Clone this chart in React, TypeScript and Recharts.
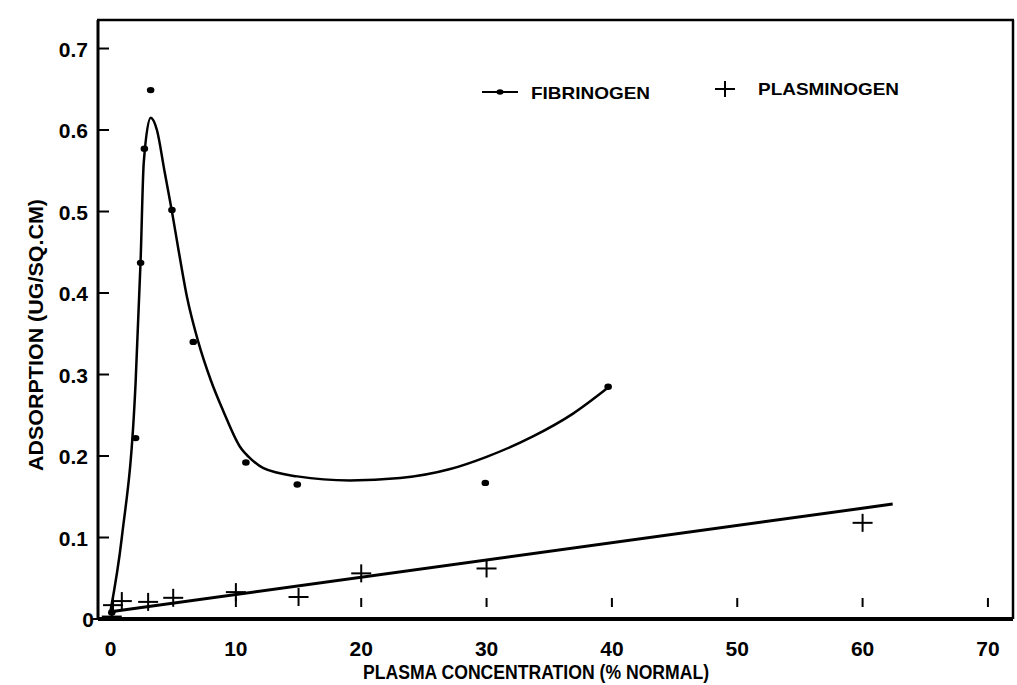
import React from "react";
import { ComposedChart, Line, Scatter, XAxis, YAxis } from "recharts";

// measured fibrinogen adsorption (dots)
const fibrinogenPoints = [
  { x: 0.1, y: 0.008 },
  { x: 2.0, y: 0.222 },
  { x: 2.4, y: 0.437 },
  { x: 2.7, y: 0.577 },
  { x: 3.2, y: 0.649 },
  { x: 4.9, y: 0.502 },
  { x: 6.6, y: 0.34 },
  { x: 10.8, y: 0.192 },
  { x: 14.9, y: 0.165 },
  { x: 29.9, y: 0.167 },
  { x: 39.7, y: 0.285 },
];

// hand-drawn fitted curve through the fibrinogen data
const fibrinogenCurve = [
  { x: 0, y: 0.01 },
  { x: 0.9, y: 0.1 },
  { x: 2.0, y: 0.29 },
  { x: 2.4, y: 0.44 },
  { x: 2.65, y: 0.56 },
  { x: 3.2, y: 0.615 },
  { x: 3.7, y: 0.6 },
  { x: 4.3, y: 0.55 },
  { x: 4.9, y: 0.5 },
  { x: 5.4, y: 0.455 },
  { x: 6.1, y: 0.395 },
  { x: 7.0, y: 0.34 },
  { x: 8.0, y: 0.293 },
  { x: 9.0, y: 0.255 },
  { x: 10.3, y: 0.212 },
  { x: 11.3, y: 0.195 },
  { x: 12.2, y: 0.185 },
  { x: 14.9, y: 0.175 },
  { x: 19.1, y: 0.17 },
  { x: 23.1, y: 0.173 },
  { x: 27.1, y: 0.184 },
  { x: 30, y: 0.199 },
  { x: 33.7, y: 0.224 },
  { x: 36.9, y: 0.252 },
  { x: 39.7, y: 0.284 },
];

// measured plasminogen adsorption (crosses)
const plasminogenPoints = [
  { x: 0.1, y: 0.003 },
  { x: 0.2, y: 0.017 },
  { x: 0.9, y: 0.022 },
  { x: 3, y: 0.021 },
  { x: 5, y: 0.026 },
  { x: 10, y: 0.033 },
  { x: 15, y: 0.027 },
  { x: 20, y: 0.056 },
  { x: 30, y: 0.062 },
  { x: 60, y: 0.118 },
];

// straight fit line for plasminogen
const plasminogenFit = [
  { x: 0, y: 0.009 },
  { x: 62.4, y: 0.141 },
];

const xTicks = [0, 10, 20, 30, 40, 50, 60, 70];
const yTicks = [0, 0.1, 0.2, 0.3, 0.4, 0.5, 0.6, 0.7];

const FONT = "'Liberation Sans', Arial, Helvetica, sans-serif";
const W = 1017;
const H = 685;
const PLOT_LEFT = 98;
const PLOT_TOP = 20;
const PLOT_RIGHT = 1013;
const PLOT_BOTTOM = 619;

const XTick = (props: any) => {
  const { x, payload } = props;
  return (
    <g>
      {payload.value > 0 && (
        <line x1={x} x2={x} y1={598} y2={607} stroke="#000" strokeWidth={2} />
      )}
      <text
        x={x}
        y={656}
        textAnchor="middle"
        fontFamily={FONT}
        fontWeight={700}
        fontSize={21}
        fill="#000"
      >
        {payload.value}
      </text>
    </g>
  );
};

const YTick = (props: any) => {
  const { y, payload } = props;
  const v = payload.value;
  const isZero = v === 0;
  return (
    <g>
      <line
        x1={isZero ? PLOT_LEFT - 6 : PLOT_LEFT}
        x2={PLOT_LEFT + 11}
        y1={y}
        y2={y}
        stroke="#000"
        strokeWidth={2}
      />
      <text
        x={isZero ? 94 : 88}
        y={y + 8}
        textAnchor="end"
        fontFamily={FONT}
        fontWeight={700}
        fontSize={21}
        fill="#000"
      >
        {isZero ? "0" : v.toFixed(1)}
      </text>
    </g>
  );
};

const DotShape = (props: any) => (
  <ellipse cx={props.cx} cy={props.cy} rx={3.8} ry={3.2} fill="#000" />
);

const CrossShape = (props: any) => {
  const { cx, cy } = props;
  return (
    <g stroke="#000" strokeWidth={2}>
      <line x1={cx - 10} x2={cx + 10} y1={cy} y2={cy} />
      <line x1={cx} x2={cx} y1={cy - 9} y2={cy + 9} />
    </g>
  );
};

const Overlay = () => (
  <svg
    width={W}
    height={H}
    style={{ position: "absolute", left: 0, top: 0, pointerEvents: "none" }}
  >
    {/* frame: top and right edges */}
    <line
      x1={PLOT_LEFT - 1}
      x2={PLOT_RIGHT + 1}
      y1={PLOT_TOP}
      y2={PLOT_TOP}
      stroke="#000"
      strokeWidth={2.5}
    />
    <line
      x1={PLOT_RIGHT}
      x2={PLOT_RIGHT}
      y1={PLOT_TOP}
      y2={PLOT_BOTTOM}
      stroke="#000"
      strokeWidth={2.5}
    />
    {/* legend */}
    <line x1={482} x2={518} y1={92} y2={92} stroke="#000" strokeWidth={2} />
    <ellipse cx={500} cy={92} rx={3.5} ry={2.8} fill="#000" />
    <text
      x={531}
      y={99}
      fontFamily={FONT}
      fontWeight={700}
      fontSize={17}
      textLength={119}
      lengthAdjust="spacingAndGlyphs"
    >
      FIBRINOGEN
    </text>
    <g stroke="#000" strokeWidth={2}>
      <line x1={715} x2={735} y1={89} y2={89} />
      <line x1={725} x2={725} y1={81} y2={97} />
    </g>
    <text
      x={758}
      y={95}
      fontFamily={FONT}
      fontWeight={700}
      fontSize={17}
      textLength={141}
      lengthAdjust="spacingAndGlyphs"
    >
      PLASMINOGEN
    </text>
    {/* axis titles */}
    <text
      x={363}
      y={679}
      fontFamily={FONT}
      fontWeight={700}
      fontSize={20}
      textLength={346}
      lengthAdjust="spacingAndGlyphs"
    >
      PLASMA CONCENTRATION (% NORMAL)
    </text>
    <text
      transform="translate(43 335) rotate(-90)"
      x={0}
      y={0}
      textAnchor="middle"
      fontFamily={FONT}
      fontWeight={700}
      fontSize={20}
      textLength={272}
      lengthAdjust="spacingAndGlyphs"
    >
      ADSORPTION (UG/SQ.CM)
    </text>
  </svg>
);

export default function App() {
  return (
    <div
      style={{
        position: "absolute",
        left: 0,
        top: 0,
        width: W,
        height: H,
        background: "#fff",
      }}
    >
      <ComposedChart
        width={W}
        height={H}
        margin={{ top: PLOT_TOP, right: W - PLOT_RIGHT, left: 0, bottom: 0 }}
      >
        <XAxis
          dataKey="x"
          type="number"
          domain={[-1, 72]}
          allowDataOverflow
          ticks={xTicks}
          tick={XTick}
          tickLine={false}
          height={H - PLOT_BOTTOM}
          axisLine={{ stroke: "#000", strokeWidth: 4 }}
        />
        <YAxis
          dataKey="y"
          type="number"
          domain={[0, 0.735]}
          allowDataOverflow
          ticks={yTicks}
          tick={YTick}
          tickLine={false}
          width={PLOT_LEFT}
          axisLine={{ stroke: "#000", strokeWidth: 3 }}
        />
        <Line
          data={fibrinogenCurve}
          dataKey="y"
          type="monotone"
          stroke="#000"
          strokeWidth={2.5}
          dot={false}
          activeDot={false}
          isAnimationActive={false}
        />
        <Line
          data={plasminogenFit}
          dataKey="y"
          type="linear"
          stroke="#000"
          strokeWidth={3}
          dot={false}
          activeDot={false}
          isAnimationActive={false}
        />
        <Scatter
          data={fibrinogenPoints}
          dataKey="y"
          shape={DotShape}
          isAnimationActive={false}
        />
        <Scatter
          data={plasminogenPoints}
          dataKey="y"
          shape={CrossShape}
          isAnimationActive={false}
        />
      </ComposedChart>
      <Overlay />
    </div>
  );
}
